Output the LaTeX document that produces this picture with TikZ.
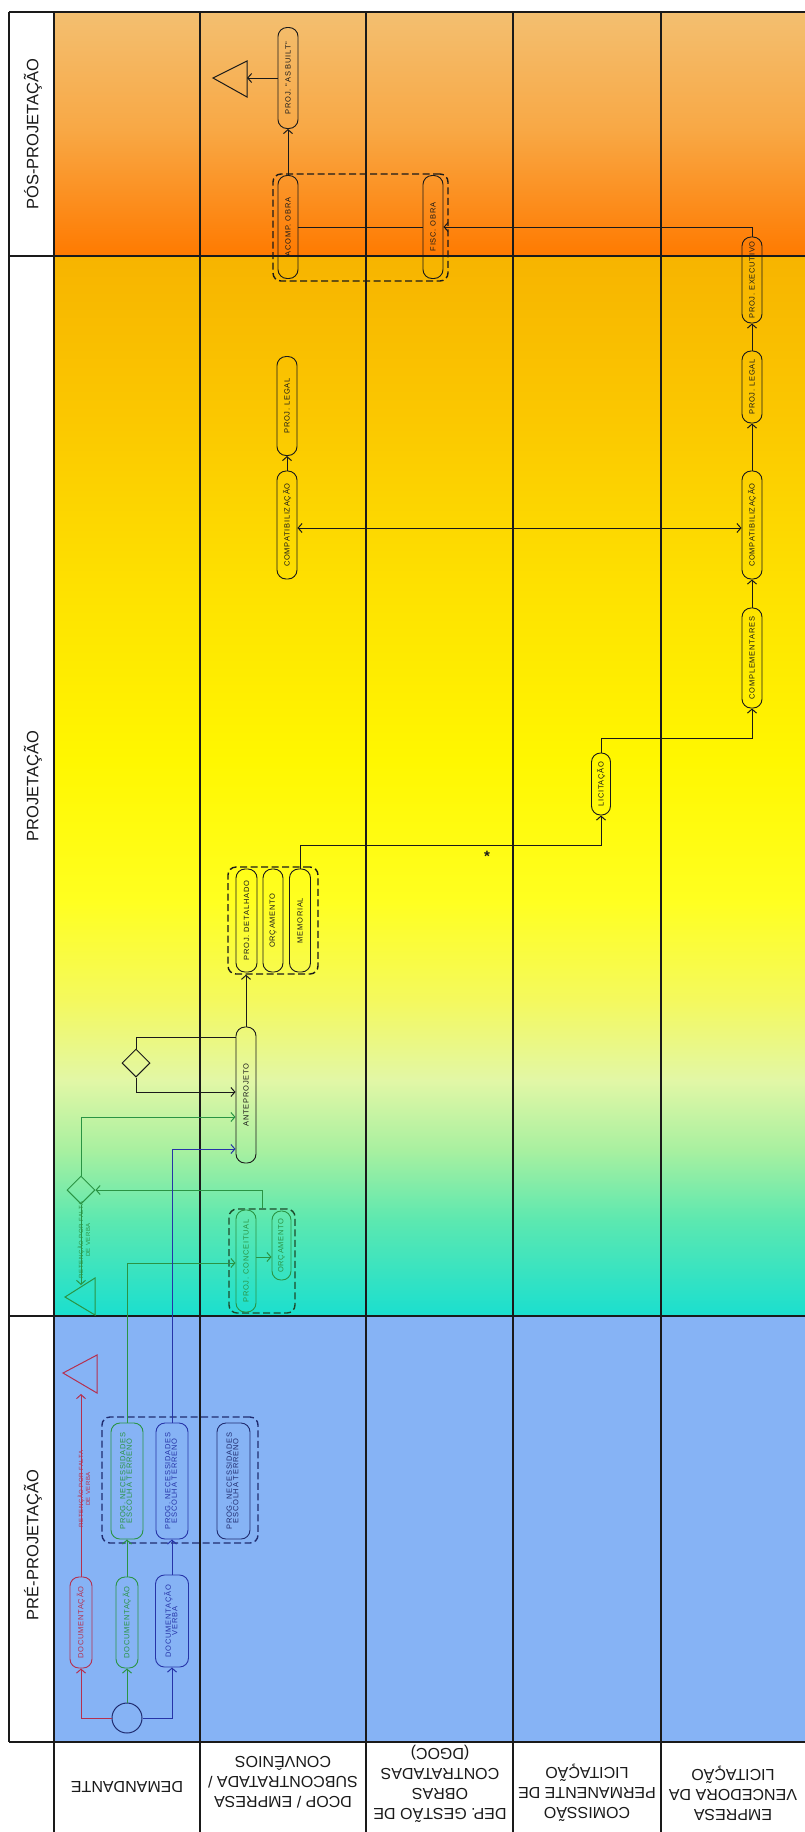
\documentclass[tikz,border=0pt]{standalone}
\usepackage{fontspec}
\usepackage{graphicx}
\setmainfont{Liberation Sans}
\newfontfamily\nodef[LetterSpace=10]{Liberation Sans}
\usetikzlibrary{arrows.meta,shapes.geometric}
\definecolor{dk}{HTML}{1A1A1A}
\definecolor{cR}{HTML}{B5304F}
\definecolor{cG}{HTML}{2A9444}
\definecolor{cB}{HTML}{2634A8}
\definecolor{navy}{HTML}{202C70}
\definecolor{dgreen}{HTML}{1D4A2A}
\definecolor{preblue}{HTML}{86B3F5}
\definecolor{p0}{HTML}{F3BF70}
\definecolor{p1}{HTML}{F8A845}
\definecolor{p2}{HTML}{FF7A00}
\definecolor{j0}{HTML}{F7B400}
\definecolor{j1}{HTML}{FBC800}
\definecolor{j2}{HTML}{FEE300}
\definecolor{j3}{HTML}{FFF700}
\definecolor{j4}{HTML}{FFFF20}
\definecolor{j5}{HTML}{F4F95E}
\definecolor{j6}{HTML}{E2F7A6}
\definecolor{j7}{HTML}{A8F0A0}
\definecolor{j8}{HTML}{5CE8B0}
\definecolor{j9}{HTML}{1ADFCF}
\begin{document}
\begin{tikzpicture}[x=1pt,y=-1pt,
  grid/.style={draw=dk,line width=1.2pt},
  ln/.style={draw=dk,line width=1pt},
  arr/.style={-{Straight Barb[length=4pt,width=9pt]}},
  darr/.style={{Straight Barb[length=4pt,width=9pt]}-{Straight Barb[length=4pt,width=9pt]}},
  box/.style={draw=dk,text=dk,rounded corners=9pt,inner sep=0pt,minimum width=20pt,line width=0.9pt,font=\nodef\fontsize{7.5}{8.5}\selectfont},
  grp/.style={draw=dk,line width=1.4pt,dash pattern=on 7pt off 3.5pt,rounded corners=8pt,inner sep=0pt},
  dia/.style={draw=dk,diamond,minimum width=28pt,minimum height=28pt,inner sep=0pt,line width=1pt},
  phase/.style={rotate=90,font=\fontsize{16.5}{20}\selectfont,text=dk},
  lane/.style={rotate=180,align=center,font=\fontsize{16}{20}\selectfont,text=dk},
  lbl/.style={rotate=90,align=center,font=\nodef\fontsize{6}{7}\selectfont}
]
\useasboundingbox (0,0) rectangle (805,1832);
\fill[white] (0,0) rectangle (805,1832);
% backgrounds
\shade[top color=p0,bottom color=p1] (54,12) rectangle (805,130);
\shade[top color=p1,bottom color=p2] (54,129.5) rectangle (805,256);
\shade[top color=j0,bottom color=j1] (54,256) rectangle (805,420.5);
\shade[top color=j1,bottom color=j2] (54,420) rectangle (805,600.5);
\shade[top color=j2,bottom color=j3] (54,600) rectangle (805,760.5);
\shade[top color=j3,bottom color=j4] (54,760) rectangle (805,900.5);
\shade[top color=j4,bottom color=j5] (54,900) rectangle (805,1000.5);
\shade[top color=j5,bottom color=j6] (54,1000) rectangle (805,1080.5);
\shade[top color=j6,bottom color=j7] (54,1080) rectangle (805,1150.5);
\shade[top color=j7,bottom color=j8] (54,1150) rectangle (805,1220.5);
\shade[top color=j8,bottom color=j9] (54,1220) rectangle (805,1316);
\fill[preblue] (54,1316) rectangle (805,1742);
% grid
\draw[grid] (9,12) -- (805,12);
\draw[grid] (9,12) -- (9,1742);
\draw[grid] (9,256) -- (805,256);
\draw[grid] (9,1316) -- (805,1316);
\draw[grid] (9,1742) -- (805,1742);
\foreach \xx in {54,200,366,513,661} \draw[grid] (\xx,12) -- (\xx,1832);
% phase labels
\node[phase] (phpos) at (33,134) {PÓS-PROJETAÇÃO};
\node[phase] (phproj) at (33,786) {PROJETAÇÃO};
\node[phase] (phpre) at (33,1545) {PRÉ-PROJETAÇÃO};
% lane labels
\node[lane] (l1) at (127,1787) {DEMANDANTE};
\node[lane] (l2) at (283,1782) {DCOP / EMPRESA\\SUBCONTRATADA /\\CONVÊNIOS};
\node[lane] (l3) at (440,1784) {DEP. GESTÃO DE\\OBRAS\\CONTRATADAS\\(DGOC)};
\node[lane] (l4) at (587,1793) {COMISSÃO\\PERMANENTE DE\\LICITAÇÃO};
\node[lane] (l5) at (733,1793) {EMPRESA\\VENCEDORA DA\\LICITAÇÃO};

% ---------- POS ----------
\node[box,minimum height=101pt] (asbuilt) at (288,78) {\rotatebox{90}{PROJ. "AS BUILT"}};
\draw[ln] (213,78) -- (247,61) -- (247,97) -- cycle;
\coordinate (endpos) at (247,78);
\node[grp,minimum width=175pt,minimum height=107pt] (g1) at (360.5,227.5) {};
\node[box,minimum height=103pt] (acomp) at (288,227) {\rotatebox{90}{ACOMP. OBRA}};
\node[box,minimum height=103pt] (fisc) at (433,227) {\rotatebox{90}{FISC. OBRA}};

% ---------- PROJETACAO ----------
\node[box,minimum height=99pt] (legal2) at (287,406) {\rotatebox{90}{PROJ. LEGAL}};
\node[box,minimum height=108pt] (compat2) at (287,525) {\rotatebox{90}{COMPATIBILIZAÇÃO}};
\node[box,minimum height=86pt] (exec5) at (752,280) {\rotatebox{90}{PROJ. EXECUTIVO}};
\node[box,minimum height=72pt] (legal5) at (752,387) {\rotatebox{90}{PROJ. LEGAL}};
\node[box,minimum height=108pt] (compat5) at (752,525) {\rotatebox{90}{COMPATIBILIZAÇÃO}};
\node[box,minimum height=100pt] (compl5) at (752,658) {\rotatebox{90}{COMPLEMENTARES}};
\node[box,minimum height=62pt,minimum width=19pt] (licit) at (601,784) {\rotatebox{90}{LICITAÇÃO}};
\node[grp,minimum width=90pt,minimum height=107pt] (g2) at (273,920.5) {};
\node[box,minimum height=103pt,minimum width=21pt] (projdet) at (246.5,920.5) {\rotatebox{90}{PROJ. DETALHADO}};
\node[box,minimum height=103pt] (orc2) at (273,920.5) {\rotatebox{90}{ORÇAMENTO}};
\node[box,minimum height=103pt,minimum width=21pt] (memorial) at (300,920.5) {\rotatebox{90}{MEMORIAL}};
\node[font=\bfseries\fontsize{15}{15}\selectfont,text=dk,inner sep=0pt] (ast) at (487,856) {*};
\node[box,minimum height=136pt] (antep) at (246,1095) {\rotatebox{90}{ANTEPROJETO}};
\node[dia] (d1) at (136,1063) {};
\node[dia,draw=cG] (d2) at (81,1190) {};
\draw[draw=cG,line width=1pt] (65,1297) -- (95,1278) -- (95,1315) -- cycle;
\coordinate (gend) at (81,1285);
\node[lbl,text=cG] (lblg) at (84,1240) {RETENÇÃO POR FALTA\\DE VERBA};
\node[grp,draw=dgreen,minimum width=66pt,minimum height=104pt] (g3) at (262,1261) {};
\node[box,draw=cG,text=cG,minimum height=102pt] (projconc) at (246,1261) {\rotatebox{90}{PROJ. CONCEITUAL}};
\node[box,draw=cG,text=cG,minimum height=69pt,minimum width=19pt] (orc3) at (281.5,1245.5) {\rotatebox{90}{ORÇAMENTO}};

% ---------- PRE ----------
\draw[draw=cR,line width=1pt] (63,1373) -- (97,1355) -- (97,1393) -- cycle;
\coordinate (redend) at (81,1394);
\node[lbl,text=cR] (lblr) at (84,1489) {RETENÇÃO POR FALTA\\DE VERBA};
\node[box,draw=cR,text=cR,minimum width=22pt,minimum height=91pt] (reddoc) at (81,1622.5) {\rotatebox{90}{DOCUMENTAÇÃO}};
\node[box,draw=cG,text=cG,minimum width=22pt,minimum height=91pt] (greendoc) at (127,1622.5) {\rotatebox{90}{DOCUMENTAÇÃO}};
\node[box,draw=cB,text=cB,minimum width=33pt,minimum height=92pt] (bluedoc) at (172,1621) {\rotatebox{90}{\begin{tabular}{@{}c@{}}DOCUMENTAÇÃO\\[-2pt]VERBA\end{tabular}}};
\node[grp,draw=navy,minimum width=156pt,minimum height=126pt] (g4) at (180,1480) {};
\node[box,draw=cG,text=cG,minimum width=32pt,minimum height=116pt] (greenprog) at (127,1481) {\rotatebox{90}{\begin{tabular}{@{}c@{}}PROG. NECESSIDADES\\[-2pt]ESCOLHA TERRENO\end{tabular}}};
\node[box,draw=cB,text=cB,minimum width=32pt,minimum height=116pt] (blueprog) at (172,1481) {\rotatebox{90}{\begin{tabular}{@{}c@{}}PROG. NECESSIDADES\\[-2pt]ESCOLHA TERRENO\end{tabular}}};
\node[box,draw=navy,text=navy,minimum width=33pt,minimum height=116pt] (prog2) at (233.5,1481) {\rotatebox{90}{\begin{tabular}{@{}c@{}}PROG. NECESSIDADES\\[-2pt]ESCOLHA TERRENO\end{tabular}}};
\node[draw=navy,circle,minimum size=30pt,inner sep=0pt,line width=1pt] (start) at (127,1718) {};

% ---------- connectors ----------
\draw[ln,arr] (acomp.north) -- (asbuilt.south);
\draw[ln,arr] (asbuilt.west) -- (endpos);
\draw[ln] (fisc.west) -- (acomp.east);
\draw[ln,arr] (exec5.north) |- (fisc.east);
\draw[ln,arr] (legal5.north) -- (exec5.south);
\draw[ln,arr] (compat5.north) -- (legal5.south);
\draw[ln,arr] (compl5.north) -- (compat5.south);
\draw[ln,arr] (compat2.north) -- (legal2.south);
\draw[ln,darr] (compat2.east |- 0,528) -- (compat5.west |- 0,528);
\draw[ln,arr] (licit.north) -- (licit.north |- 0,738) -| (compl5.south);
\draw[ln,arr] (memorial.north) -- (memorial.north |- 0,845) -| (licit.south);
\draw[ln,arr] (antep.north) -- (antep.north |- g2.south);
\draw[ln] (antep.west |- 0,1037) -| (d1.north);
\draw[ln,arr] (d1.south) |- (antep.west |- 0,1092);
\draw[ln,draw=cG,arr] (d2.north) -- (d2.north |- 0,1117) -- (antep.west |- 0,1117);
\draw[ln,draw=cG,arr] (g3.north) |- (d2.east);
\draw[ln,draw=cG,arr] (d2.south) -- (gend);
\draw[ln,draw=cG,arr] (projconc.east |- 0,1257) -- (orc3.west |- 0,1257);
\draw[ln,draw=cG,arr] (greenprog.north) -- (greenprog.north |- 0,1263) -- (projconc.west |- 0,1263);
\draw[ln,draw=cB,arr] (blueprog.north) -- (blueprog.north |- 0,1149) -- (antep.west |- 0,1149);
\draw[ln,draw=cR,arr] (reddoc.north) -- (redend);
\draw[ln,draw=cG,arr] (greendoc.north) -- (greenprog.south);
\draw[ln,draw=cB,arr] (bluedoc.north) -- (blueprog.south);
\draw[ln,draw=cR,arr] (start.west) -| (reddoc.south);
\draw[ln,draw=cG,arr] (start.north) -- (greendoc.south);
\draw[ln,draw=cB,arr] (start.east) -| (bluedoc.south);
\end{tikzpicture}
\end{document}
